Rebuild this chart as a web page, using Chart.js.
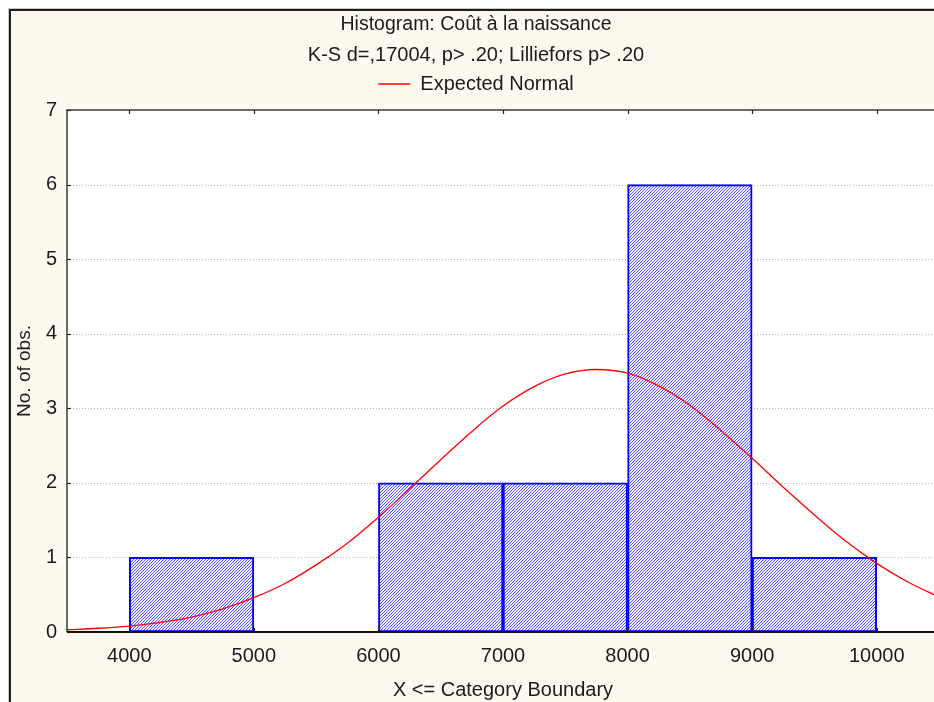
<!DOCTYPE html>
<html>
<head>
<meta charset="utf-8">
<script src="https://cdn.jsdelivr.net/npm/chart.js@4.4.1/dist/chart.umd.min.js"></script>
<style>
  html, body { margin: 0; padding: 0; background: #ffffff; overflow: hidden; }
  #wrap { width: 934px; height: 702px; overflow: hidden; position: relative; }
  canvas { display: block; }
</style>
</head>
<body>
<div id="wrap"><canvas id="chart" width="954" height="714"></canvas></div>
<script>
// Histogram bins (upper boundary = category label), counts per bin
const binStarts = [4000, 5000, 6000, 7000, 8000, 9000];
const binCounts = [1, 0, 2, 2, 6, 1];
const binWidth = 1000;

// Expected normal curve, read along the x axis
const curveX = [3500, 3750, 4000, 4250, 4500, 4750, 5000, 5250, 5500, 5750, 6000, 6250, 6500, 6750,
                7000, 7250, 7500, 7750, 8000, 8250, 8500, 8750, 9000, 9250, 9500, 9750, 10000, 10250, 10500];
const curveY = [0.03, 0.05, 0.08, 0.13, 0.20, 0.31, 0.46, 0.65, 0.90, 1.19, 1.54, 1.92, 2.31, 2.69,
                3.03, 3.29, 3.46, 3.52, 3.47, 3.30, 3.04, 2.70, 2.33, 1.94, 1.57, 1.22, 0.92, 0.67, 0.47];

// Axis ticks
const xTickValues = [4000, 5000, 6000, 7000, 8000, 9000, 10000];
const yTickValues = [0, 1, 2, 3, 4, 5, 6, 7];
const xRange = [3500, 10500];
const yRange = [0, 7];

const FONT = '"Liberation Sans", Arial, sans-serif';
Chart.defaults.font.family = FONT;
Chart.defaults.color = '#1b1b1b';

// Diagonal hatch fill for the bars
function hatchPattern() {
  const c = document.createElement('canvas');
  c.width = 3; c.height = 3;
  const g = c.getContext('2d');
  g.fillStyle = '#ffffff';
  g.fillRect(0, 0, 3, 3);
  for (let i = 0; i < 3; i++) {
    g.fillStyle = 'rgb(85,85,255)';
    g.fillRect(i, 2 - i, 1, 1);
    g.fillStyle = 'rgb(236,236,255)';
    g.fillRect(i, (3 - i) % 3, 1, 1);
  }
  return document.getElementById('chart').getContext('2d').createPattern(c, 'repeat');
}

const barData = binStarts
  .map((s, i) => ({ x: s + binWidth / 2, y: binCounts[i] }))
  .filter(d => d.y > 0);
const curveData = curveX.map((x, i) => ({ x, y: curveY[i] }));

// Backgrounds, frame, dotted grid and inward tick marks
const framePlugin = {
  id: 'frame',
  afterInit(chart) {
    const lg = chart.legend;
    const fit = lg.fit;
    lg.fit = function () { fit.call(this); this.height += 6; };
  },
  beforeDraw(chart) {
    const { ctx, width, height, chartArea: a } = chart;
    ctx.save();
    ctx.fillStyle = '#ffffff';
    ctx.fillRect(0, 0, width, height);
    ctx.fillStyle = '#fef9ef';
    ctx.fillRect(10, 10, width - 20, height - 20);
    ctx.strokeStyle = '#c8c8c8';
    ctx.lineWidth = 1;
    ctx.strokeRect(8.5, 8.5, width - 17, height - 17);
    ctx.strokeStyle = '#1e1e1e';
    ctx.lineWidth = 2;
    ctx.strokeRect(10, 10, width - 20, height - 20);
    ctx.fillStyle = '#ffffff';
    ctx.fillRect(a.left, a.top, a.right - a.left, a.bottom - a.top);
    ctx.restore();
  },
  beforeDatasetsDraw(chart) {
    const { ctx, chartArea: a, scales: { y } } = chart;
    ctx.save();
    ctx.strokeStyle = '#b4b4b4';
    ctx.lineWidth = 1;
    ctx.setLineDash([1, 2]);
    yTickValues.forEach(v => {
      if (v <= yRange[0] || v >= yRange[1]) return;
      const py = Math.round(y.getPixelForValue(v)) + 0.5;
      ctx.beginPath();
      ctx.moveTo(a.left, py);
      ctx.lineTo(a.right, py);
      ctx.stroke();
    });
    ctx.restore();
  },
  afterDatasetsDraw(chart) {
    const { ctx, chartArea: a, scales: { x, y } } = chart;
    ctx.save();
    ctx.strokeStyle = '#3c3c3c';
    ctx.lineWidth = 1.5;
    ctx.beginPath();
    ctx.moveTo(a.left, a.bottom);
    ctx.lineTo(a.left, a.top);
    ctx.lineTo(a.right, a.top);
    ctx.stroke();
    ctx.strokeStyle = '#111111';
    ctx.lineWidth = 2;
    ctx.beginPath();
    ctx.moveTo(a.left, a.bottom);
    ctx.lineTo(a.right, a.bottom);
    ctx.stroke();
    ctx.strokeStyle = '#222222';
    ctx.lineWidth = 1.2;
    xTickValues.forEach(v => {
      const px = Math.round(x.getPixelForValue(v)) + 0.5;
      ctx.beginPath();
      ctx.moveTo(px, a.top); ctx.lineTo(px, a.top + 4);
      ctx.moveTo(px, a.bottom); ctx.lineTo(px, a.bottom - 4);
      ctx.stroke();
    });
    yTickValues.forEach(v => {
      const py = Math.round(y.getPixelForValue(v)) + 0.5;
      ctx.beginPath();
      ctx.moveTo(a.left, py); ctx.lineTo(a.left + 4, py);
      ctx.stroke();
    });
    ctx.restore();
  }
};

new Chart(document.getElementById('chart'), {
  type: 'bar',
  data: {
    datasets: [
      {
        type: 'bar',
        label: 'No. of obs.',
        data: barData,
        backgroundColor: hatchPattern(),
        borderColor: '#0000ff',
        borderWidth: 2,
        borderSkipped: false,
        barPercentage: 1,
        categoryPercentage: 1,
        grouped: false,
        order: 2
      },
      {
        type: 'line',
        label: 'Expected Normal',
        data: curveData,
        borderColor: '#ff0000',
        backgroundColor: '#ff0000',
        borderWidth: 1.3,
        pointRadius: 0,
        cubicInterpolationMode: 'monotone',
        fill: false,
        order: 1
      }
    ]
  },
  options: {
    responsive: false,
    animation: false,
    devicePixelRatio: 1,
    layout: { padding: { left: 13, right: 15, top: 0, bottom: 0 } },
    plugins: {
      title: {
        display: true,
        text: 'Histogram: Coût à la naissance',
        font: { family: FONT, size: 19.5, weight: 'normal' },
        color: '#1b1b1b',
        padding: { top: 13, bottom: 0 }
      },
      subtitle: {
        display: true,
        text: 'K-S d=,17004, p> .20; Lilliefors p> .20',
        font: { family: FONT, size: 20, weight: 'normal' },
        color: '#1b1b1b',
        padding: { top: 6.6, bottom: 0 }
      },
      legend: {
        display: true,
        labels: {
          filter: item => item.datasetIndex === 1,
          usePointStyle: true,
          pointStyle: 'line',
          pointStyleWidth: 32,
          font: { family: FONT, size: 20 },
          color: '#1b1b1b',
          padding: 7
        }
      },
      tooltip: { enabled: false }
    },
    scales: {
      x: {
        type: 'linear',
        min: xRange[0],
        max: xRange[1],
        offset: false,
        grid: { display: false, drawTicks: false },
        border: { display: false },
        afterBuildTicks(scale) { scale.ticks = xTickValues.map(v => ({ value: v })); },
        afterFit(scale) { scale.height = 82; },
        ticks: { font: { size: 20 }, color: '#1b1b1b', padding: 12, maxRotation: 0, autoSkip: false,
                 callback: v => String(v) },
        title: {
          display: true,
          text: 'X <= Category Boundary',
          font: { size: 20 },
          color: '#1b1b1b',
          padding: { top: 12, bottom: 12 }
        }
      },
      y: {
        min: yRange[0],
        max: yRange[1],
        grid: { display: false, drawTicks: false },
        border: { display: false },
        afterBuildTicks(scale) { scale.ticks = yTickValues.map(v => ({ value: v })); },
        afterFit(scale) { scale.width = 54; },
        ticks: { font: { size: 20 }, color: '#1b1b1b', padding: 10, callback: v => String(v) },
        title: {
          display: true,
          text: 'No. of obs.',
          font: { size: 19 },
          color: '#1b1b1b',
          padding: { top: 0, bottom: 0 }
        }
      }
    }
  },
  plugins: [framePlugin]
});
</script>
</body>
</html>
